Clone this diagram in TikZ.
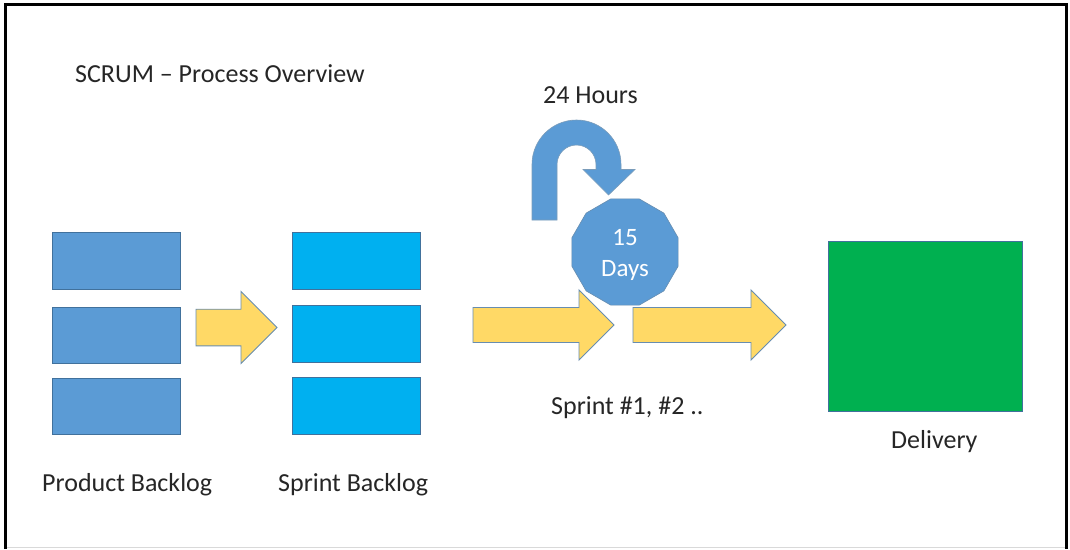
\documentclass[tikz,border=0pt]{standalone}
\usepackage{fontspec}
\setmainfont{Carlito}
\usetikzlibrary{shapes.geometric}
\definecolor{pblue}{HTML}{5B9BD5}
\definecolor{sblue}{HTML}{00B0F0}
\definecolor{edgec}{HTML}{41719C}
\definecolor{gold}{HTML}{FFD966}
\definecolor{dgreen}{HTML}{00B050}
\definecolor{txt}{HTML}{262626}
\newcommand\blkarrow[6]{%
  \draw[goldarrow] (#1,#4-#5) -- (#2,#4-#5) -- (#2,#4-#6) -- (#3,#4) -- (#2,#4+#6) -- (#2,#4+#5) -- (#1,#4+#5) -- cycle;}
\begin{document}
\begin{tikzpicture}[x=1pt,y=-1pt,
  pbox/.style={draw=edgec, fill=pblue, line width=0.9pt, inner sep=0pt, minimum width=128pt, minimum height=56.5pt, anchor=north west},
  sbox/.style={pbox, fill=sblue},
  goldarrow/.style={draw=edgec!80, fill=gold, line width=0.9pt, line join=miter},
  lbl/.style={text=txt, inner sep=0pt, anchor=base west, font=\fontsize{26}{31}\selectfont}]
\useasboundingbox (0,0) rectangle (1070,549);
\fill[white] (0,0) rectangle (1070,549);
% frame
\draw[gray!30, line width=1.5pt] (5.5,547.5) -- (1066.5,547.5);
\draw[black, line width=3pt] (5.5,549) -- (5.5,4.8) -- (1066.5,4.8) -- (1066.5,549);
% title
\node[lbl] (title) at (75,82) {SCRUM – Process Overview};
% product backlog
\node[pbox] (p1) at (52,232) {};
\node[pbox] (p2) at (52,306.5) {};
\node[pbox] (p3) at (52,377.7) {};
\node[lbl] (plbl) at (42,491.5) {Product Backlog};
% sprint backlog
\node[sbox] (s1) at (292,232) {};
\node[sbox] (s2) at (292,305) {};
\node[sbox] (s3) at (292,377) {};
\node[lbl] (slbl) at (278,491.5) {Sprint Backlog};
% block arrows
\blkarrow{196}{241}{277}{327.5}{18.3}{36}
\blkarrow{473}{579}{614}{325}{17.5}{35}
\blkarrow{633}{751}{786}{325}{17.5}{35}
% u-turn arrow
\draw[draw=edgec!70, fill=pblue, line width=0.6pt]
  (532,220) -- (532,164.5) arc[start angle=180, end angle=0, radius=44.5pt]
  -- (621,169.5) -- (635,169.5) -- (608.5,195) -- (583,169.5) -- (596,169.5)
  -- (596,164.5) arc[start angle=0, end angle=180, radius=19.5pt] -- (557,220) -- cycle;
\node[lbl] (hours) at (543,103.3) {24 Hours};
% sprint polygon
\node[regular polygon, regular polygon sides=12, minimum size=110pt, fill=pblue, draw=edgec!80, line width=0.6pt, inner sep=0pt] (sprint) at (625,252) {};
\node[text=white, align=center, inner sep=0pt, font=\fontsize{25}{31}\selectfont] (days) at (625,254.5) {15\\Days};
\node[lbl] (sprintlbl) at (551,414.5) {Sprint \#1, \#2 ..};
% delivery
\node[draw=edgec, fill=dgreen, line width=0.9pt, inner sep=0pt, minimum width=194pt, minimum height=170.3pt, anchor=north west] (deliv) at (828.3,240.7) {};
\node[lbl] (dlbl) at (891,448) {Delivery};
\end{tikzpicture}
\end{document}
